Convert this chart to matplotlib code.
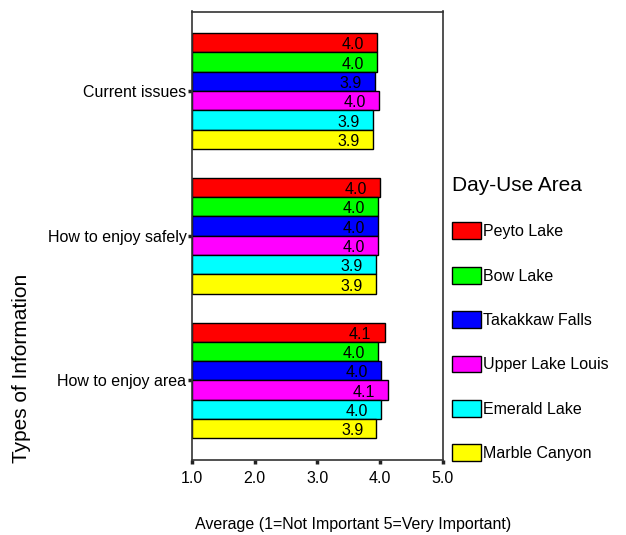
import matplotlib
matplotlib.use("Agg")
import matplotlib.pyplot as plt
import numpy as np

plt.rcParams['font.family'] = ['Liberation Sans', 'DejaVu Sans']

categories = ["Current issues", "How to enjoy safely", "How to enjoy area"]
areas = ["Peyto Lake", "Bow Lake", "Takakkaw Falls", "Upper Lake Louis", "Emerald Lake", "Marble Canyon"]
colors = ["#ff0000", "#00ff00", "#0000ff", "#ff00ff", "#00ffff", "#ffff00"]
current_issues = [3.95, 3.95, 3.91, 3.98, 3.89, 3.89]
enjoy_safely = [4.00, 3.97, 3.97, 3.97, 3.93, 3.93]
enjoy_area = [4.07, 3.96, 4.01, 4.12, 4.01, 3.94]
xticks = [1.0, 2.0, 3.0, 4.0, 5.0]

data = np.array([current_issues, enjoy_safely, enjoy_area])

fig = plt.figure(figsize=(6.26, 5.35), dpi=100)
ax = fig.add_axes([192/626, 1-460/535, (443-192)/626, (460-11.5)/535])

fs = 11.5
n = len(areas)
bh = 0.8 / n
ypos = np.arange(len(categories))
for j in range(n):
    yy = ypos - 0.4 + bh * (j + 0.5)
    vals = data[:, j]
    ax.barh(yy, vals - 1.0, left=1.0, height=bh, color=colors[j],
            edgecolor='black', linewidth=1.0, label=areas[j])
    for v, y in zip(vals, yy):
        ax.annotate(f"{v:.1f}", xy=(v, y), xytext=(-9.5, -1.5), textcoords='offset points',
                    ha='right', va='center', fontsize=fs, color='black')

ax.set_xlim(1.0, 5.0)
ax.set_ylim(2.55, -0.55)
ax.set_xticks(xticks)
ax.set_xticklabels([f"{t:.1f}" for t in xticks], fontsize=fs)
ax.set_yticks(ypos)
ax.set_yticklabels(categories, fontsize=fs)
ax.tick_params(axis='x', length=3, width=2.5, pad=5, color='#222222')
ax.tick_params(axis='y', length=3, width=2.5, pad=1, color='#222222')
for s in ax.spines.values():
    s.set_linewidth(1.2)
    s.set_color('#333333')

fig.text(353/626, 1-524/535, "Average (1=Not Important 5=Very Important)",
         ha='center', va='center', fontsize=fs)
fig.text(22/626, 1-368/535, "Types of Information", rotation=90,
         ha='center', va='center', fontsize=15)

leg = fig.legend(loc='upper left', bbox_to_anchor=(452/626, 1-176/535),
                 frameon=False, fontsize=fs, title="Day-Use Area", title_fontsize=15,
                 handlelength=1.8, handleheight=1.25, handletextpad=0.12,
                 labelspacing=1.72, borderpad=0, borderaxespad=0)
leg._legend_box.align = "left"

fig.savefig("out.png", dpi=100)
